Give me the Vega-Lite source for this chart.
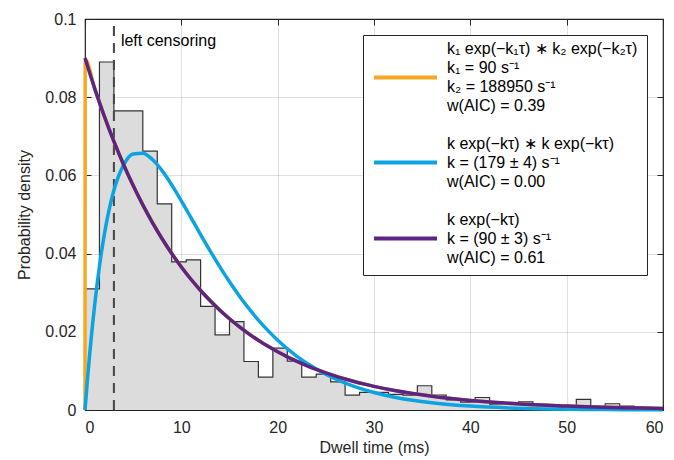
{
  "$schema": "https://vega.github.io/schema/vega-lite/v6.json",
  "width": 578,
  "height": 391,
  "autosize": {"type": "none"},
  "padding": {"left": 85, "top": 19, "right": 11, "bottom": 50},
  "background": "white",
  "config": {
    "view": {"stroke": "#262626", "strokeWidth": 1.2},
    "font": "Liberation Sans",
    "axis": {
      "labelFont": "Liberation Sans", "labelFontSize": 16, "labelColor": "#262626",
      "titleFont": "Liberation Sans", "titleFontSize": 16, "titleFontWeight": "normal", "titleColor": "#262626",
      "tickColor": "#262626", "tickSize": -6, "tickWidth": 1, "domain": false,
      "gridColor": "#000000", "gridOpacity": 0.12, "gridWidth": 1, "zindex": 1, "labelPadding": 15
    },
    "legend": {
      "orient": "top-right", "offset": 16, "padding": 9,
      "strokeColor": "#262626", "fillColor": "white",
      "symbolType": "stroke", "symbolSize": 3969, "symbolStrokeWidth": 4,
      "labelFont": "Liberation Sans", "labelFontSize": 16, "labelColor": "#000000",
      "labelOffset": 8, "rowPadding": 15, "labelLimit": 400
    }
  },
  "datasets": {
    "hist": [
      {"t": 0, "d": 0.031}, {"t": 1.5, "d": 0.089}, {"t": 3, "d": 0.0765}, {"t": 4.5, "d": 0.0765},
      {"t": 6, "d": 0.0662}, {"t": 7.5, "d": 0.0527}, {"t": 9, "d": 0.0379}, {"t": 10.5, "d": 0.0384},
      {"t": 12, "d": 0.0265}, {"t": 13.5, "d": 0.0192}, {"t": 15, "d": 0.0226}, {"t": 16.5, "d": 0.0124},
      {"t": 18, "d": 0.0084}, {"t": 19.5, "d": 0.0158}, {"t": 21, "d": 0.0125}, {"t": 22.5, "d": 0.0084},
      {"t": 24, "d": 0.0092}, {"t": 25.5, "d": 0.0072}, {"t": 27, "d": 0.0038}, {"t": 28.5, "d": 0.0045},
      {"t": 30, "d": 0.0045}, {"t": 31.5, "d": 0.004}, {"t": 33, "d": 0.0038}, {"t": 34.5, "d": 0.0062},
      {"t": 36, "d": 0.0038}, {"t": 37.5, "d": 0.0026}, {"t": 39, "d": 0.002}, {"t": 40.5, "d": 0.0032},
      {"t": 42, "d": 0.0015}, {"t": 43.5, "d": 0.0015}, {"t": 45, "d": 0.0021}, {"t": 46.5, "d": 0.0012},
      {"t": 48, "d": 0.0012}, {"t": 49.5, "d": 0.0008}, {"t": 51, "d": 0.0027}, {"t": 52.5, "d": 0.0008},
      {"t": 54, "d": 0.0016}, {"t": 55.5, "d": 0.001}, {"t": 57, "d": 0.0005}, {"t": 58.5, "d": 0.0004},
      {"t": 60, "d": 0.0004}
    ],
    "curves": [
      {"s": "s1", "t": 0, "d": 0}, {"s": "s1", "t": 0.02, "d": 0.0885}, {"s": "s1", "t": 0.05, "d": 0.0896},
      {"s": "s1", "t": 1, "d": 0.082254}, {"s": "s1", "t": 2, "d": 0.075174}, {"s": "s1", "t": 3, "d": 0.068704},
      {"s": "s1", "t": 4, "d": 0.062791}, {"s": "s1", "t": 5, "d": 0.057387}, {"s": "s1", "t": 6, "d": 0.052447},
      {"s": "s1", "t": 8, "d": 0.043808}, {"s": "s1", "t": 10, "d": 0.036591}, {"s": "s1", "t": 12, "d": 0.030564},
      {"s": "s1", "t": 15, "d": 0.023332}, {"s": "s1", "t": 20, "d": 0.014877}, {"s": "s1", "t": 25, "d": 0.009486},
      {"s": "s1", "t": 30, "d": 0.006049}, {"s": "s1", "t": 40, "d": 0.002459}, {"s": "s1", "t": 50, "d": 0.001},
      {"s": "s1", "t": 60, "d": 0.000407},

      {"s": "s2", "t": 0, "d": 0}, {"s": "s2", "t": 0.25, "d": 0.00766}, {"s": "s2", "t": 0.5, "d": 0.014649},
      {"s": "s2", "t": 1, "d": 0.02679}, {"s": "s2", "t": 1.5, "d": 0.036743}, {"s": "s2", "t": 2, "d": 0.044798},
      {"s": "s2", "t": 3, "d": 0.056185}, {"s": "s2", "t": 4, "d": 0.062635}, {"s": "s2", "t": 5, "d": 0.065461},
      {"s": "s2", "t": 6, "d": 0.065679}, {"s": "s2", "t": 7, "d": 0.064067}, {"s": "s2", "t": 8, "d": 0.06122},
      {"s": "s2", "t": 9, "d": 0.057584}, {"s": "s2", "t": 10, "d": 0.053495}, {"s": "s2", "t": 11, "d": 0.049201},
      {"s": "s2", "t": 12, "d": 0.044877}, {"s": "s2", "t": 13, "d": 0.040648}, {"s": "s2", "t": 14, "d": 0.0366},
      {"s": "s2", "t": 15, "d": 0.032788}, {"s": "s2", "t": 16, "d": 0.029242}, {"s": "s2", "t": 17, "d": 0.025977},
      {"s": "s2", "t": 18, "d": 0.022997}, {"s": "s2", "t": 19, "d": 0.020297}, {"s": "s2", "t": 20, "d": 0.017863},
      {"s": "s2", "t": 22, "d": 0.013736}, {"s": "s2", "t": 24, "d": 0.010476}, {"s": "s2", "t": 26, "d": 0.007933},
      {"s": "s2", "t": 28, "d": 0.005972}, {"s": "s2", "t": 30, "d": 0.004474}, {"s": "s2", "t": 32, "d": 0.003335},
      {"s": "s2", "t": 34, "d": 0.002477}, {"s": "s2", "t": 36, "d": 0.001834}, {"s": "s2", "t": 38, "d": 0.001353},
      {"s": "s2", "t": 40, "d": 0.000996}, {"s": "s2", "t": 44, "d": 0.000536}, {"s": "s2", "t": 48, "d": 0.000286},
      {"s": "s2", "t": 52, "d": 0.000151}, {"s": "s2", "t": 56, "d": 0.00008}, {"s": "s2", "t": 60, "d": 0.000042},

      {"s": "s3", "t": 0, "d": 0.09}, {"s": "s3", "t": 1, "d": 0.082254}, {"s": "s3", "t": 2, "d": 0.075174},
      {"s": "s3", "t": 3, "d": 0.068704}, {"s": "s3", "t": 4, "d": 0.062791}, {"s": "s3", "t": 5, "d": 0.057387},
      {"s": "s3", "t": 6, "d": 0.052447}, {"s": "s3", "t": 7, "d": 0.047933}, {"s": "s3", "t": 8, "d": 0.043808},
      {"s": "s3", "t": 9, "d": 0.040037}, {"s": "s3", "t": 10, "d": 0.036591}, {"s": "s3", "t": 11, "d": 0.033442},
      {"s": "s3", "t": 12, "d": 0.030564}, {"s": "s3", "t": 13, "d": 0.027933}, {"s": "s3", "t": 14, "d": 0.025529},
      {"s": "s3", "t": 15, "d": 0.023332}, {"s": "s3", "t": 16, "d": 0.021324}, {"s": "s3", "t": 17, "d": 0.019488},
      {"s": "s3", "t": 18, "d": 0.017811}, {"s": "s3", "t": 19, "d": 0.016278}, {"s": "s3", "t": 20, "d": 0.014877},
      {"s": "s3", "t": 21, "d": 0.013596}, {"s": "s3", "t": 22, "d": 0.012426}, {"s": "s3", "t": 23, "d": 0.011357},
      {"s": "s3", "t": 24, "d": 0.010379}, {"s": "s3", "t": 25, "d": 0.009486}, {"s": "s3", "t": 26, "d": 0.00867},
      {"s": "s3", "t": 27, "d": 0.007923}, {"s": "s3", "t": 28, "d": 0.007241}, {"s": "s3", "t": 29, "d": 0.006618},
      {"s": "s3", "t": 30, "d": 0.006049}, {"s": "s3", "t": 32, "d": 0.005052}, {"s": "s3", "t": 34, "d": 0.00422},
      {"s": "s3", "t": 36, "d": 0.003525}, {"s": "s3", "t": 38, "d": 0.002944}, {"s": "s3", "t": 40, "d": 0.002459},
      {"s": "s3", "t": 42, "d": 0.002054}, {"s": "s3", "t": 44, "d": 0.001716}, {"s": "s3", "t": 46, "d": 0.001433},
      {"s": "s3", "t": 48, "d": 0.001197}, {"s": "s3", "t": 50, "d": 0.001}, {"s": "s3", "t": 52, "d": 0.000835},
      {"s": "s3", "t": 54, "d": 0.000698}, {"s": "s3", "t": 56, "d": 0.000583}, {"s": "s3", "t": 58, "d": 0.000487},
      {"s": "s3", "t": 60, "d": 0.000407}
    ],
    "censor": [{"t": 3, "y0": 0, "y1": 0.1, "y": 0.0944, "label": "left censoring"}]
  },
  "resolve": {"axis": {"x": "independent", "y": "independent"}},
  "layer": [
    {
      "data": {"name": "hist"},
      "mark": {"type": "area", "interpolate": "step-after", "color": "#dcdcdc"},
      "encoding": {
        "x": {"field": "t", "type": "quantitative", "scale": {"domain": [0, 60], "nice": false},
              "axis": {"orient": "bottom", "title": "Dwell time (ms)", "values": [0, 10, 20, 30, 40, 50, 60], "titlePadding": 4}},
        "y": {"field": "d", "type": "quantitative", "scale": {"domain": [0, 0.1], "nice": false},
              "axis": {"orient": "left", "title": "Probability density", "values": [0, 0.02, 0.04, 0.06, 0.08, 0.1], "format": "~g", "titlePadding": 12}}
      }
    },
    {
      "data": {"name": "hist"},
      "mark": {"type": "line", "interpolate": "step-after", "color": "#333333", "strokeWidth": 1.2},
      "encoding": {
        "x": {"field": "t", "type": "quantitative", "axis": {"orient": "top", "labels": false, "grid": false, "title": null, "values": [0, 10, 20, 30, 40, 50, 60]}},
        "y": {"field": "d", "type": "quantitative", "axis": {"orient": "right", "labels": false, "grid": false, "title": null, "values": [0, 0.02, 0.04, 0.06, 0.08, 0.1]}}
      }
    },
    {
      "data": {"name": "censor"},
      "mark": {"type": "rule", "color": "#444444", "strokeWidth": 2, "strokeDash": [10, 7]},
      "encoding": {
        "x": {"field": "t", "type": "quantitative", "axis": null},
        "y": {"field": "y0", "type": "quantitative", "axis": null},
        "y2": {"field": "y1"}
      }
    },
    {
      "data": {"name": "censor"},
      "mark": {"type": "text", "align": "left", "baseline": "middle", "dx": 7, "fontSize": 16, "font": "Liberation Sans", "color": "#000000"},
      "encoding": {
        "x": {"field": "t", "type": "quantitative", "axis": null},
        "y": {"field": "y", "type": "quantitative", "axis": null},
        "text": {"field": "label"}
      }
    },
    {
      "data": {"name": "curves"},
      "mark": {"type": "line", "interpolate": "monotone", "strokeWidth": 3.5},
      "encoding": {
        "x": {"field": "t", "type": "quantitative", "axis": null},
        "y": {"field": "d", "type": "quantitative", "axis": null},
        "color": {
          "field": "s", "type": "nominal",
          "scale": {"domain": ["s1", "s2", "s3"], "range": ["#F7A823", "#0BA3E2", "#5C2483"]},
          "legend": {
            "title": null,
            "labelExpr": "datum.value == 's1' ? ['k₁ exp(−k₁τ) ∗ k₂ exp(−k₂τ)', 'k₁ = 90 s⁻¹', 'k₂ = 188950 s⁻¹', 'w(AIC) = 0.39'] : datum.value == 's2' ? ['k exp(−kτ) ∗ k exp(−kτ)', 'k = (179 ± 4) s⁻¹', 'w(AIC) = 0.00'] : ['k exp(−kτ)', 'k = (90 ± 3) s⁻¹', 'w(AIC) = 0.61']",
            "encode": {"labels": {"update": {"lineHeight": {"value": 19}, "dy": {"signal": "datum.value == 's1' ? -28.5 : -19"}}}}
          }
        }
      }
    }
  ]
}
